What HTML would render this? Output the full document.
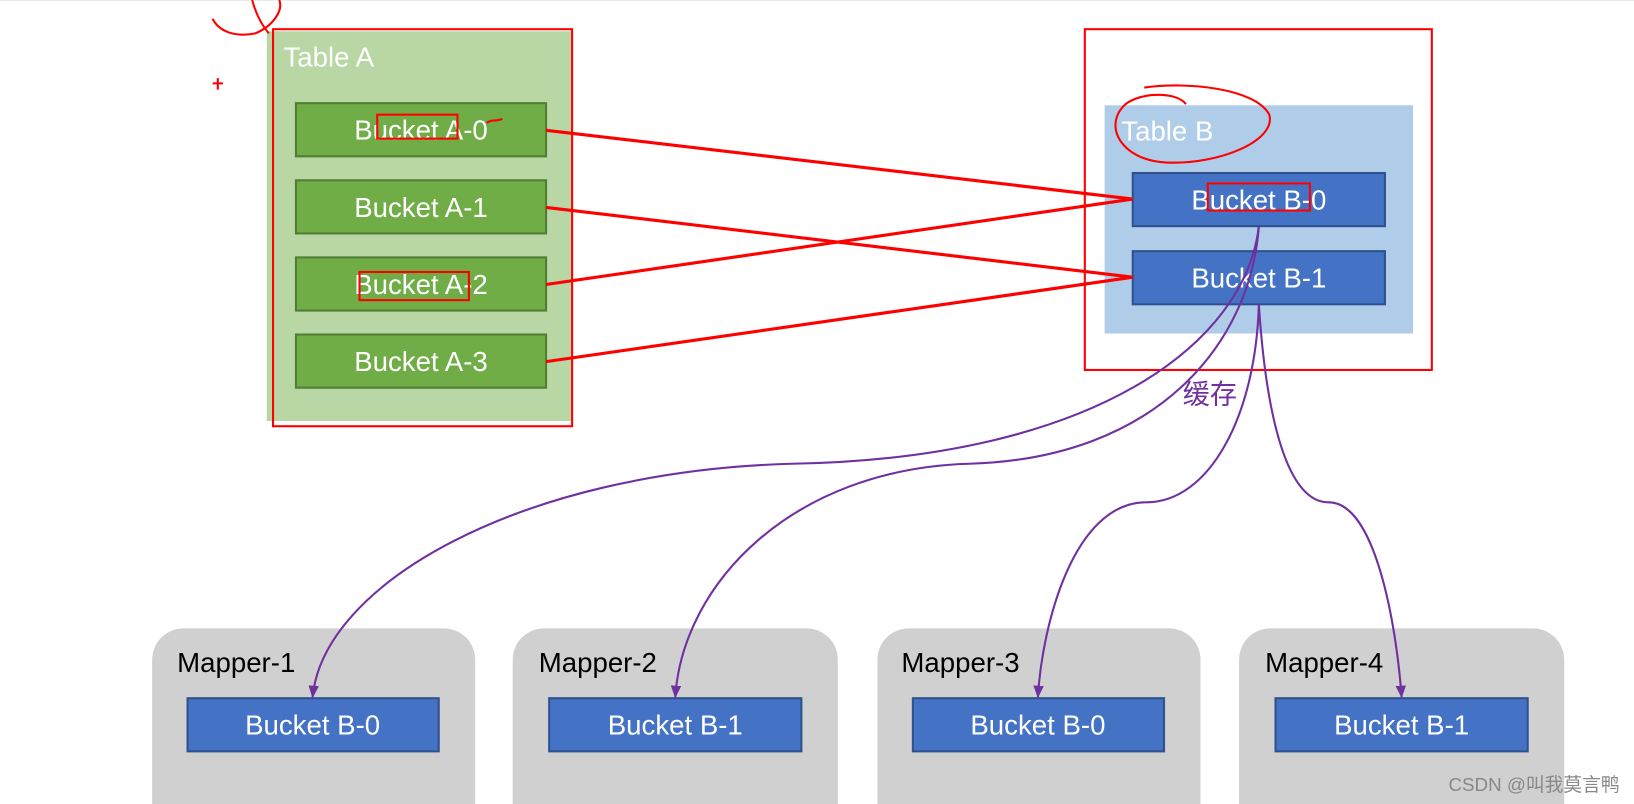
<!DOCTYPE html>
<html><head><meta charset="utf-8"><style>
html,body{margin:0;padding:0;background:#fff;width:1634px;height:804px;overflow:hidden}
svg{display:block}
text{font-family:"Liberation Sans","Noto Sans CJK SC",sans-serif}
</style></head><body>
<svg width="1634" height="804" viewBox="0 0 1568 771.5" xmlns="http://www.w3.org/2000/svg">
<defs>
<marker id="ar" markerWidth="12" markerHeight="10" refX="11" refY="5" orient="auto" markerUnits="userSpaceOnUse" viewBox="0 0 12 10">
<path d="M0,0 L12,5 L0,10 Z" fill="#7030a0"/>
</marker>
</defs>
<line x1="0" y1="0.5" x2="1568" y2="0.5" stroke="#e4eef0"/>
<rect x="256" y="30" width="293" height="374" fill="#b8d7a5"/>
<rect x="262" y="28" width="287" height="381" fill="none" stroke="#ff0000" stroke-width="2"/>
<text x="272" y="64" font-size="26.5" fill="#fff">Table A</text>
<g fill="#70ad47" stroke="#507e32" stroke-width="2">
<rect x="284" y="99" width="240" height="51"/><rect x="284" y="173" width="240" height="51"/>
<rect x="284" y="247" width="240" height="51"/><rect x="284" y="321" width="240" height="51"/>
</g>
<g font-size="26.5" fill="#fff" text-anchor="middle">
<text x="404" y="134">Bucket A-0</text><text x="404" y="208">Bucket A-1</text>
<text x="404" y="282">Bucket A-2</text><text x="404" y="356">Bucket A-3</text>
</g>
<rect x="1041" y="28" width="333" height="327" fill="none" stroke="#ff0000" stroke-width="2"/>
<rect x="1060" y="101" width="296" height="219" fill="#afcde9"/>
<text x="1076" y="135" font-size="26.5" fill="#fff">Table B</text>
<g fill="#4472c4" stroke="#2f528f" stroke-width="2">
<rect x="1087" y="166" width="242" height="51"/><rect x="1087" y="241" width="242" height="51"/>
</g>
<g font-size="26.5" fill="#fff" text-anchor="middle">
<text x="1208" y="201">Bucket B-0</text><text x="1208" y="276">Bucket B-1</text>
</g>
<g stroke="#ff0000" stroke-width="3">
<line x1="524" y1="125" x2="1087" y2="191"/><line x1="524" y1="199" x2="1087" y2="266"/>
<line x1="524" y1="273" x2="1087" y2="191"/><line x1="524" y1="347" x2="1087" y2="266"/>
</g>
<g fill="none" stroke="#ff0000" stroke-width="2">
<rect x="362" y="110" width="77" height="23"/><rect x="345" y="261" width="105" height="27"/>
<rect x="1159" y="176" width="98" height="26"/>
<path d="M1098,84 C1140,78 1205,85 1218,110 C1225,135 1170,158 1120,156 C1075,154 1058,120 1080,100 C1095,88 1130,88 1138,100"/>
<path d="M204,18 C210,30 225,36 245,32 C262,25 272,10 268,0"/>
<path d="M242,0 C246,15 252,25 258,32"/>
<path d="M467,118 C472,114 476,117 482,114"/>
<path d="M204,80 L214,80 M209,75 L209,86"/>
</g>
<text x="1135" y="387" font-size="26" fill="#7030a0">缓存</text>
<g fill="#d0d0d0">
<rect x="146" y="603" width="310" height="200" rx="30"/><rect x="492" y="603" width="312" height="200" rx="30"/>
<rect x="842" y="603" width="310" height="200" rx="30"/><rect x="1189" y="603" width="312" height="200" rx="30"/>
</g>
<g font-size="26.5" fill="#000">
<text x="170" y="645">Mapper-1</text><text x="517" y="645">Mapper-2</text>
<text x="865" y="645">Mapper-3</text><text x="1214" y="645">Mapper-4</text>
</g>
<g fill="#4472c4" stroke="#2f528f" stroke-width="2">
<rect x="180" y="670" width="241" height="51"/><rect x="527" y="670" width="242" height="51"/>
<rect x="876" y="670" width="241" height="51"/><rect x="1224" y="670" width="242" height="51"/>
</g>
<g font-size="26.5" fill="#fff" text-anchor="middle">
<text x="300" y="705">Bucket B-0</text><text x="648" y="705">Bucket B-1</text>
<text x="996" y="705">Bucket B-0</text><text x="1345" y="705">Bucket B-1</text>
</g>
<g fill="none" stroke="#7030a0" stroke-width="2" marker-end="url(#ar)">
<path d="M1208,217 C1195,330 1050,440 760,445 C500,452 310,560 300,669"/>
<path d="M1208,217 C1200,330 1110,440 930,445 C760,450 655,560 648,669"/>
<path d="M1208,292 C1205,400 1160,482 1100,482 C1030,482 1000,600 996,669"/>
<path d="M1208,292 C1215,400 1235,482 1275,482 C1320,482 1340,600 1345,669"/>
</g>
<text x="1390" y="759" font-size="18" fill="#888">CSDN @叫我莫言鸭</text>
</svg>
</body></html>
